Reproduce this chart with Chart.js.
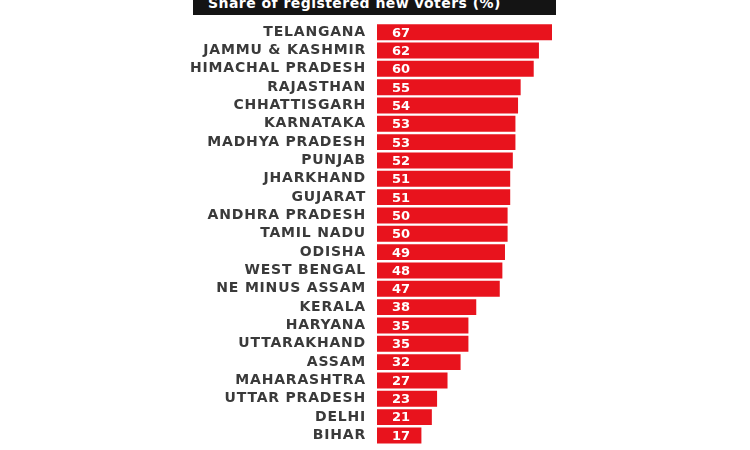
<!DOCTYPE html>
<html>
<head>
<meta charset="utf-8">
<script src="https://cdn.jsdelivr.net/npm/chart.js@4"></script>
<style>
  html, body { margin: 0; padding: 0; background: #fff; }
  #wrap { position: relative; width: 750px; height: 450px; overflow: hidden; }
  #title {
    position: absolute; left: 193px; top: 0; width: 363px; height: 15px;
    background: #141414; overflow: hidden;
  }
  #title span {
    position: absolute; left: 15px; top: -5px;
    font: bold 14px "DejaVu Sans", sans-serif; color: #fff; white-space: nowrap;
    line-height: 17px; letter-spacing: 0.45px;
  }
  canvas { position: absolute; left: 0; top: 0; }
</style>
</head>
<body>
<div id="wrap">
  <canvas id="c" width="750" height="464"></canvas>
  <div id="title"><span>Share of registered new voters (%)</span></div>
</div>
<script>
const states = ["TELANGANA","JAMMU & KASHMIR","HIMACHAL PRADESH","RAJASTHAN","CHHATTISGARH","KARNATAKA","MADHYA PRADESH","PUNJAB","JHARKHAND","GUJARAT","ANDHRA PRADESH","TAMIL NADU","ODISHA","WEST BENGAL","NE MINUS ASSAM","KERALA","HARYANA","UTTARAKHAND","ASSAM","MAHARASHTRA","UTTAR PRADESH","DELHI","BIHAR"];
const shares = [67,62,60,55,54,53,53,52,51,51,50,50,49,48,47,38,35,35,32,27,23,21,17];

const spacing = {
  id: 'spacing',
  beforeDraw(chart) { chart.ctx.letterSpacing = '0.8px'; },
  beforeDatasetsDraw(chart) { chart.ctx.letterSpacing = '0px'; }
};

const valueLabels = {
  id: 'valueLabels',
  afterDatasetsDraw(chart) {
    const ctx = chart.ctx;
    const meta = chart.getDatasetMeta(0);
    ctx.save();
    ctx.letterSpacing = '0px';
    ctx.fillStyle = '#ffffff';
    ctx.font = 'bold 13px "DejaVu Sans", sans-serif';
    ctx.textAlign = 'left';
    ctx.textBaseline = 'middle';
    meta.data.forEach((bar, i) => {
      ctx.fillText(String(shares[i]), bar.base + 15, bar.y + 1);
    });
    ctx.restore();
  }
};

new Chart(document.getElementById('c'), {
  type: 'bar',
  data: {
    labels: states,
    datasets: [{
      data: shares,
      backgroundColor: '#e8131d',
      borderWidth: 0,
      categoryPercentage: 1,
      barPercentage: 0.87
    }]
  },
  options: {
    indexAxis: 'y',
    responsive: false,
    animation: false,
    layout: { padding: { left: 0, right: 198, top: 23, bottom: 0 } },
    plugins: { legend: { display: false }, tooltip: { enabled: false }, title: { display: false } },
    scales: {
      x: {
        display: false,
        min: 0, max: 67,
        grid: { display: false }
      },
      y: {
        afterFit(scale) { scale.width = 377; },
        grid: { display: false, drawTicks: false },
        border: { display: false },
        ticks: {
          padding: 11,
          color: '#3a3a3a',
          font: { family: '"DejaVu Sans", sans-serif', size: 14, weight: 'bold' },
          autoSkip: false
        }
      }
    }
  },
  plugins: [spacing, valueLabels]
});
</script>
</body>
</html>
